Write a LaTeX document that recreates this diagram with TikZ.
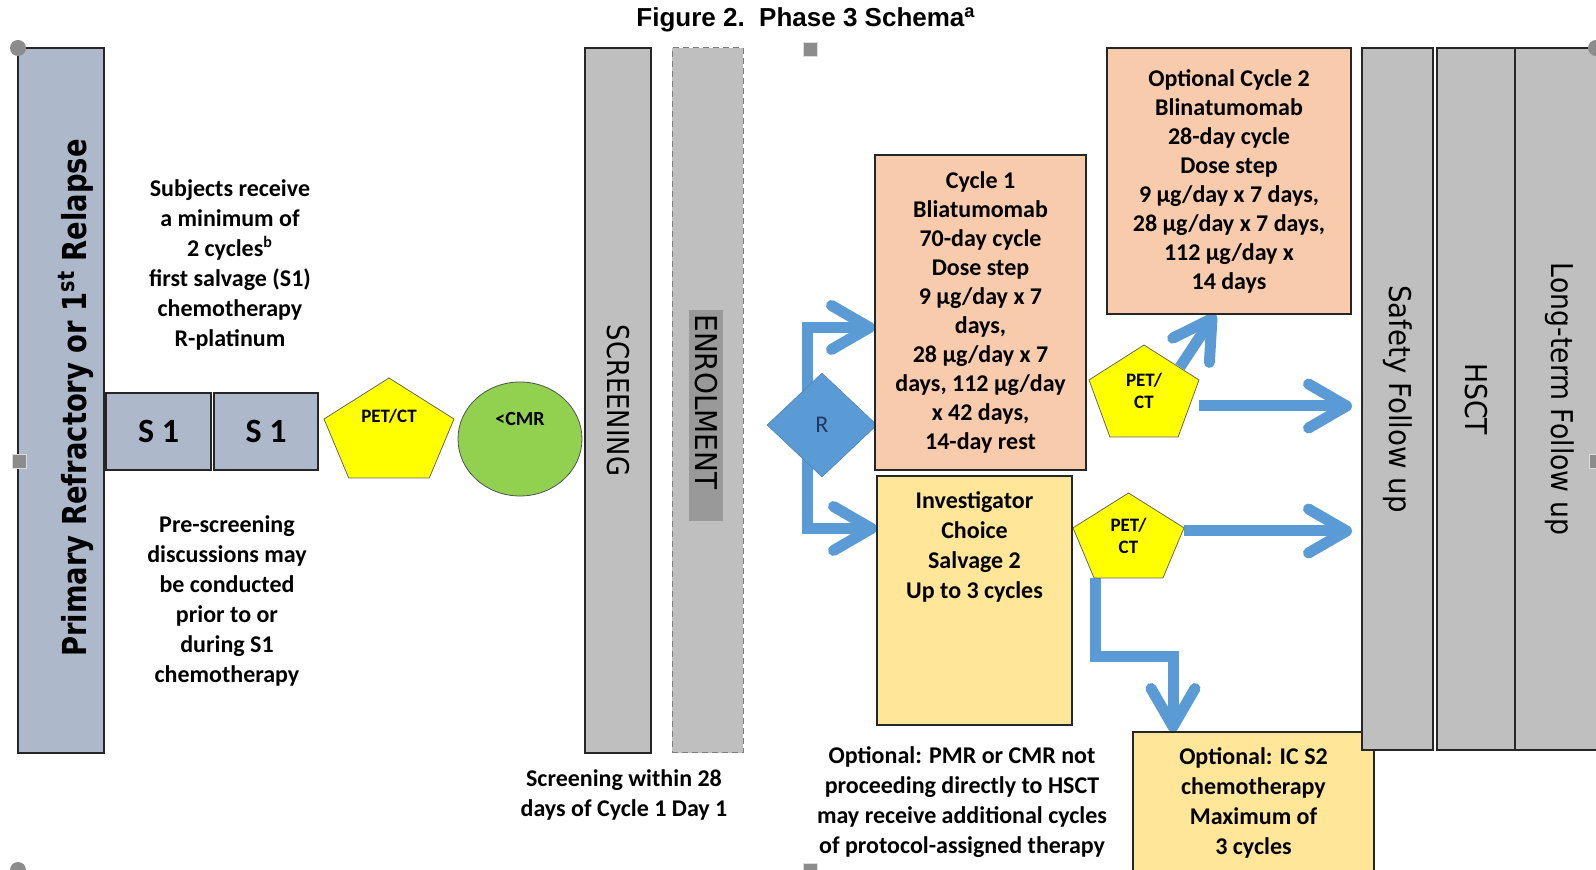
\documentclass[tikz,border=0pt]{standalone}
\usepackage{fontspec}
\setmainfont{Carlito}
\newfontfamily\titlefont{Liberation Sans}
\newfontfamily\vertfont{DejaVu Sans}
\usepackage{graphicx}
\usetikzlibrary{calc,arrows.meta,shapes.geometric,backgrounds}
\definecolor{slateblue}{HTML}{ADB9CA}
\definecolor{bargray}{HTML}{BFBFBF}
\definecolor{hilite}{HTML}{999999}
\definecolor{petyellow}{HTML}{FFFF00}
\definecolor{cmrgreen}{HTML}{92D050}
\definecolor{flowblue}{HTML}{5B9BD5}
\definecolor{peach}{HTML}{F8CBAD}
\definecolor{paleyellow}{HTML}{FFE699}
\definecolor{edge}{HTML}{262626}
\definecolor{rnavy}{HTML}{1F3864}
\definecolor{handle}{HTML}{8C8C8C}
\newcommand{\pentshape}[2]{\filldraw[fill=petyellow, draw=edge!70, line width=0.4pt] (#1.north) -- ($(#1.north west)!#2!(#1.south west)$) -- ($(#1.south west)!0.19!(#1.south east)$) -- ($(#1.south west)!0.81!(#1.south east)$) -- ($(#1.north east)!#2!(#1.south east)$) -- cycle;}

\begin{document}
\begin{tikzpicture}[x=0.5pt, y=-0.5pt,
    box/.style={draw=edge, line width=0.6pt, inner sep=0pt, outer sep=0pt},
    bar/.style={box, fill=bargray, minimum height=351pt},
    txt/.style={font=\fontsize{12}{15}\selectfont\bfseries, align=center, inner sep=0pt},
    boxtxt/.style={box, font=\fontsize{12}{14.5}\selectfont\bfseries, align=center},
    vtxt/.style={font=\fontsize{15}{18}\selectfont\vertfont},
    pet/.style={inner sep=0pt, outer sep=0pt, font=\fontsize{9.5}{11}\selectfont\bfseries, align=center},
    flow/.style={draw=flowblue, line width=5.5pt, -{Straight Barb[length=19pt, width=22pt, round]}},
    hsquare/.style={fill=handle, draw=white!70!handle, line width=0.4pt}]
  \useasboundingbox (0,0) rectangle (1596,870);
  \clip (0,0) rectangle (1596,870);

  \node[font=\titlefont\bfseries\fontsize{13}{15}\selectfont] (title) at (806,20) {Figure 2.~~Phase 3 Schema\textsuperscript{a}};

  \node[box, fill=slateblue, minimum width=43pt, minimum height=352.5pt] (prim) at (61,400.5) {};
  \node[font=\fontsize{16.5}{18}\selectfont\vertfont\bfseries, inner sep=0pt] (primtext) at (76,398) {\rotatebox{90}{\scalebox{0.83}[1]{Primary Refractory or 1\textsuperscript{st} Relapse}}};

  \node[box, fill=slateblue, minimum width=52.5pt, minimum height=38.5pt, font=\fontsize{17}{20}\selectfont\bfseries] (s1a) at (158.5,431.5) {S 1};
  \node[box, fill=slateblue, minimum width=52pt, minimum height=38.5pt, font=\fontsize{17}{20}\selectfont\bfseries] (s1b) at (266,431.5) {S 1};
  \node[txt] (subj) at (230,265) {Subjects receive\\a minimum of\\2 cycles\textsuperscript{b}\\first salvage (S1)\\chemotherapy\\R-platinum};
  \node[txt] (presc) at (227,601) {Pre-screening\\discussions may\\be conducted\\prior to or\\during S1\\chemotherapy};

  \node[pet, minimum width=65pt, minimum height=50pt, text height=6.5pt, text depth=11.5pt] (pa) at (389,428) {PET/CT};
  \node[ellipse, draw=edge!80, line width=0.4pt, fill=cmrgreen, minimum width=62pt, minimum height=57pt, inner sep=0pt, font=\fontsize{10}{12}\selectfont\bfseries, text height=7pt, text depth=20.6pt] (cmr) at (520,439) {<CMR};

  \node[bar, minimum width=33pt, minimum height=352.5pt, vtxt] (scr) at (618,400.5) {\rotatebox{-90}{\scalebox{0.86}[1]{SCREENING}}};
  \node[draw=edge!60, densely dashed, line width=0.5pt, fill=bargray, minimum width=35.5pt, minimum height=352.5pt, inner sep=0pt] (enr) at (707.5,400.5) {};
  \node[fill=hilite, inner xsep=3pt, inner ysep=2pt, vtxt] (enrtext) at (706,416) {\rotatebox{-90}{\scalebox{0.93}[1]{ENROLMENT}\hspace{14pt}}};
  \node[txt] (scrnote) at (624,795) {Screening within 28\\days of Cycle 1 Day 1};

  \node[diamond, fill=flowblue, draw=flowblue!85!black, line width=0.3pt, minimum width=55pt, minimum height=52pt, inner sep=0pt, font=\fontsize{12}{14}\selectfont, text=rnavy] (r) at (822,425) {R};

  \node[boxtxt, fill=peach, minimum width=105.5pt, minimum height=157.5pt] (c1) at (980.5,312.5) {Cycle 1\\Bliatumomab\\70-day cycle\\Dose step\\9 µg/day x 7\\days,\\28 µg/day x 7\\days, 112 µg/day\\x 42 days,\\14-day rest};
  \node[boxtxt, fill=peach, minimum width=122pt, minimum height=133pt] (c2) at (1229,181) {Optional Cycle 2\\Blinatumomab\\28-day cycle\\Dose step\\9 µg/day x 7 days,\\28 µg/day x 7 days,\\112 µg/day x\\14 days};
  \node[box, fill=paleyellow, minimum width=97.5pt, minimum height=124.5pt, font=\fontsize{12}{15}\selectfont\bfseries] (inv) at (974.5,600.5) {\parbox[c][124.5pt][t]{97pt}{\centering\vspace*{8pt}Investigator\\Choice\\Salvage 2\\Up to 3 cycles}};

  \node[pet, minimum width=55pt, minimum height=46pt] (p2) at (1144,391) {PET/\\CT};
  \node[pet, minimum width=55.5pt, minimum height=42.5pt] (p3) at (1128.5,535.5) {PET/\\CT};

  \node[boxtxt, fill=paleyellow, minimum width=120.5pt, minimum height=71pt, font=\fontsize{12}{15}\selectfont\bfseries] (ic2) at (1253.5,803) {Optional: IC S2\\chemotherapy\\Maximum of\\3 cycles};
  \node[txt] (optnote) at (962,802) {Optional: PMR or CMR not\\proceeding directly to HSCT\\may receive additional cycles\\of protocol-assigned therapy};

  \node[bar, minimum width=35.5pt, vtxt] (sf) at (1397.5,399) {\rotatebox{-90}{\scalebox{0.92}[1]{Safety Follow up}}};
  \node[bar, minimum width=39pt, vtxt] (hs) at (1476,399) {\rotatebox{-90}{\scalebox{0.89}[1]{HSCT}}};
  \node[bar, minimum width=45pt, vtxt, line width=0.9pt] (lt) at (1560,399) {\rotatebox{-90}{\scalebox{0.89}[1]{Long-term Follow up}}};

  \begin{scope}[on background layer]
    \draw[flow] ([xshift=-7.5pt]r.center) |- ([yshift=-7.5pt]c1.west);
    \draw[flow] ([xshift=-7.5pt]r.center) |- ([yshift=36pt]inv.west);
    \draw[flow] ($(p2.north east)+(-19,22)$) -- ([xshift=-7pt]c2.south);
    \draw[flow] ([yshift=-3.5pt]p2.east |- sf.west) -- ([yshift=-3.5pt, xshift=-5pt]sf.west);
    \draw[flow] ([yshift=2.25pt]p3.east) -- ([yshift=2.25pt, xshift=-5pt]sf.west |- p3.east);
    \draw[flow] ($(p3.south west)+(22,0)$) -- ++(0,79) -| ([xshift=20pt]ic2.north west);
    \pentshape{pa}{0.41}
    \pentshape{p2}{0.38}
    \pentshape{p3}{0.41}
  \end{scope}

  \fill[handle] (18,48) circle[radius=4pt];
  \fill[handle] (18,870) circle[radius=4pt];
  \fill[handle] (1596,48) circle[radius=4pt];
  \filldraw[hsquare] (12,454) rectangle (26,468);
  \filldraw[hsquare] (803,42) rectangle (817,56);
  \filldraw[hsquare] (803,863) rectangle (817,877);
  \filldraw[hsquare] (1589,454) rectangle (1603,468);
\end{tikzpicture}
\end{document}
